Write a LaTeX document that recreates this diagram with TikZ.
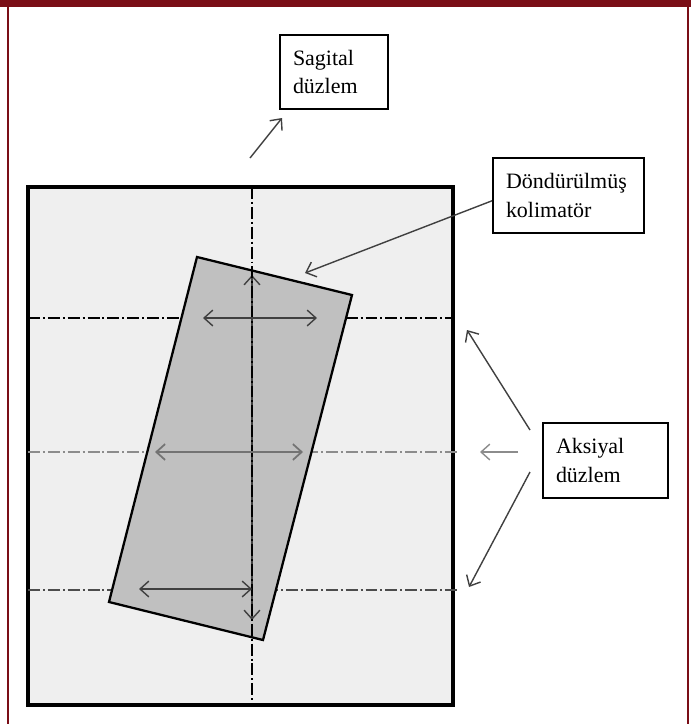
\documentclass[tikz,border=0pt]{standalone}
\usepackage{fontspec}
\setmainfont{Liberation Serif}
\usetikzlibrary{arrows.meta}
\definecolor{koyukirmizi}{RGB}{122,14,22}
\definecolor{acikgri}{RGB}{239,239,239}
\definecolor{kolgri}{RGB}{192,192,192}
\tikzset{
  kutu/.style={draw,line width=1.1pt,fill=white,align=left,inner xsep=0.26cm,
    font=\fontsize{12.5}{16}\selectfont,minimum height=1.5cm},
  eksen/.style={line width=1.1pt,dash pattern=on 6.8pt off 1.7pt on 1.1pt off 1.7pt},
  ok/.style={draw=black!75,line width=0.8pt,-{Straight Barb[length=5pt,width=9pt]}},
  ciftok/.style={draw=black!75,line width=0.8pt,{Straight Barb[length=5pt,width=9pt]}-{Straight Barb[length=5pt,width=9pt]}}
}
\begin{document}
\begin{tikzpicture}[x=0.02cm,y=-0.02cm]
  \useasboundingbox (0,0) rectangle (691,724);
  % cerceve
  \fill[koyukirmizi] (0,0) rectangle (691,7);
  \draw[koyukirmizi,line width=0.6pt] (8,7)--(8,724);
  \draw[koyukirmizi,line width=0.6pt] (688,7)--(688,724);
  % alan
  \draw[line width=2pt,fill=acikgri] (28,187) rectangle (453,705);
  \draw[eksen] (28,318)--(453,318);
  \draw[eksen,draw=black!45] (28,452)--(457,452);
  \draw[eksen,draw=black!70] (28,590)--(457,590);
  % kolimator
  \draw[line width=1.3pt,fill=kolgri] (197,257)--(352,295)--(263,640)--(109,602)--cycle;
  \coordinate (ust) at (252,275);
  \coordinate (alt) at (252,620);
  \draw[ciftok] (ust)--(alt);
  \draw[eksen] (252,187)--(252,705);
  \coordinate (a1) at (203,318);
  \coordinate (b1) at (317,318);
  \coordinate (a2) at (155,452);
  \coordinate (b2) at (303,452);
  \coordinate (a3) at (139,589);
  \coordinate (b3) at (252,589);
  \draw[ciftok] (a1)--(b1);
  \draw[ciftok,draw=black!55,line width=1pt] (a2)--(b2);
  \draw[ciftok] (a3)--(b3);
  % etiketler
  \node[kutu,text width=1.64cm,minimum height=1.48cm] (sagital) at (334,72) {Sagital\\düzlem};
  \node[kutu,text width=2.5cm] (kolimator) at (568.5,195.5) {Döndürülmüş\\kolimatör};
  \node[kutu,text width=1.98cm] (aksiyal) at (605.5,460.5) {Aksiyal\\düzlem};
  % oklar
  \coordinate (s0) at (250,158);
  \coordinate (s1) at (282,118);
  \draw[ok] (s0)--(s1);
  \coordinate (k1) at (305,273);
  \draw[ok] ([yshift=-3pt]kolimator.west)--(k1);
  \coordinate (x0) at (530,430);
  \coordinate (x1) at (467,330);
  \coordinate (y0) at (518,452);
  \coordinate (y1) at (480,452);
  \coordinate (z0) at (530,472);
  \coordinate (z1) at (469,587);
  \draw[ok] (x0)--(x1);
  \draw[ok,draw=black!45] (y0)--(y1);
  \draw[ok] (z0)--(z1);
\end{tikzpicture}
\end{document}
